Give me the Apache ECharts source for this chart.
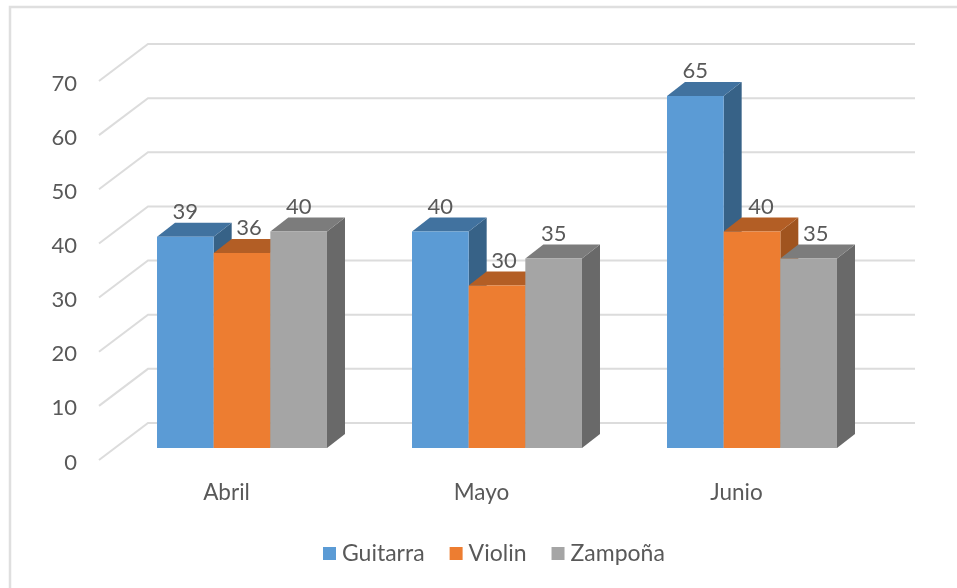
<!DOCTYPE html>
<html>
<head>
<meta charset="utf-8">
<style>html,body{margin:0;padding:0;background:#fff}#c{width:957px;height:588px;filter:blur(0.45px)}</style>
<script src="https://cdn.jsdelivr.net/npm/echarts@6/dist/echarts.min.js"></script>
</head>
<body>
<div id="c"></div>
<script>
const categories = ['Abril', 'Mayo', 'Junio'];
const guitarra = [39, 40, 65];
const violin = [36, 30, 40];
const zampona = [40, 35, 35];
const gridTicks = [0, 10, 20, 30, 40, 50, 60, 70];

const FONT = 'Lato, sans-serif';
const TEXT = '#595959';
const WALL = [49, -37];
const WALL_EXTRA = 2;
const BAR_SHIFT = [15.5, -12];
const BAR_DEPTH = [18, -14];
const BAR_RATIO = 0.2222;
const guitarraLabelDx = [0, 0, 0];
const violinLabelDx = [7, 7, 9];
const zamponaLabelDx = [0, 0, 7];

function barSeries(name, values, slot, front, top, side, labelDx) {
  return {
    name, type: 'custom', z: 3, silent: true,
    itemStyle: { color: front },
    encode: { x: 0, y: 1 },
    data: values.map((v, i) => [i, v]),
    renderItem(params, api) {
      const v = api.value(1);
      const base = api.coord([api.value(0), 0]);
      const peak = api.coord([api.value(0), v]);
      const w = api.size([1, 0])[0] * BAR_RATIO;
      const x0 = base[0] + BAR_SHIFT[0] + (slot - 1.5) * w;
      const x1 = x0 + w;
      const y0 = base[1] + BAR_SHIFT[1];
      const y1 = peak[1] + BAR_SHIFT[1];
      const dx = BAR_DEPTH[0], dy = BAR_DEPTH[1];
      return {
        type: 'group',
        children: [
          { type: 'polygon', shape: { points: [[x1, y1], [x1 + dx, y1 + dy], [x1 + dx, y0 + dy], [x1, y0]] }, style: { fill: side } },
          { type: 'polygon', shape: { points: [[x0, y1], [x0 + dx, y1 + dy], [x1 + dx, y1 + dy], [x1, y1]] }, style: { fill: top } },
          { type: 'rect', shape: { x: x0, y: y1, width: w, height: y0 - y1 }, style: { fill: front } },
          { type: 'text', style: { text: String(v), x: (x0 + x1) / 2 + labelDx[params.dataIndex], y: y1 - 25, fill: TEXT, fontSize: 22, fontFamily: FONT, align: 'center', verticalAlign: 'middle' } }
        ]
      };
    }
  };
}

const wallSeries = {
  type: 'custom', z: 1, silent: true,
  encode: { y: 1 },
  data: gridTicks.map(v => [0, v]),
  renderItem(params, api) {
    const cs = params.coordSys;
    const y = api.coord([0, api.value(1)])[1];
    return {
      type: 'polyline',
      shape: { points: [[cs.x, y], [cs.x + WALL[0], y + WALL[1]], [cs.x + cs.width + WALL[0] + WALL_EXTRA, y + WALL[1]]] },
      style: { stroke: '#dcdcdc', lineWidth: 2, fill: null }
    };
  }
};

const chart = echarts.init(document.getElementById('c'), null, { renderer: 'canvas' });
chart.setOption({
  animation: false,
  backgroundColor: '#ffffff',
  graphic: [{
    type: 'rect', z: 0, silent: true,
    shape: { x: 10, y: 7, width: 1000, height: 1000 },
    style: { fill: null, stroke: '#dfdfdf', lineWidth: 2.5 }
  }],
  grid: { left: 99, right: 93, top: 81, bottom: 128 },
  xAxis: {
    type: 'category', data: categories,
    axisLine: { show: false }, axisTick: { show: false }, splitLine: { show: false },
    axisLabel: { color: TEXT, fontSize: 22.5, fontFamily: FONT, margin: 21 }
  },
  yAxis: {
    type: 'value', min: 0, max: 70, interval: 10,
    axisLine: { show: false }, axisTick: { show: false }, splitLine: { show: false },
    axisLabel: {
      margin: 22,
      formatter: '{n|{value}}',
      rich: { n: { color: TEXT, fontSize: 22, fontFamily: FONT, padding: [5, 0, 0, 0] } }
    }
  },
  legend: {
    data: ['Guitarra', 'Violin', 'Zampoña'],
    left: 318, top: 537,
    icon: 'rect', itemWidth: 13, itemHeight: 13, itemGap: 25,
    textStyle: { color: TEXT, fontSize: 23, fontFamily: FONT, padding: [0, 0, 0, 1] }
  },
  series: [
    wallSeries,
    barSeries('Guitarra', guitarra, 0, '#5B9BD5', '#41729F', '#376287', guitarraLabelDx),
    barSeries('Violin', violin, 1, '#ED7D31', '#B35E25', '#A0541F', violinLabelDx),
    barSeries('Zampoña', zampona, 2, '#A5A5A5', '#7C7C7C', '#696969', zamponaLabelDx)
  ]
});
</script>
</body>
</html>
